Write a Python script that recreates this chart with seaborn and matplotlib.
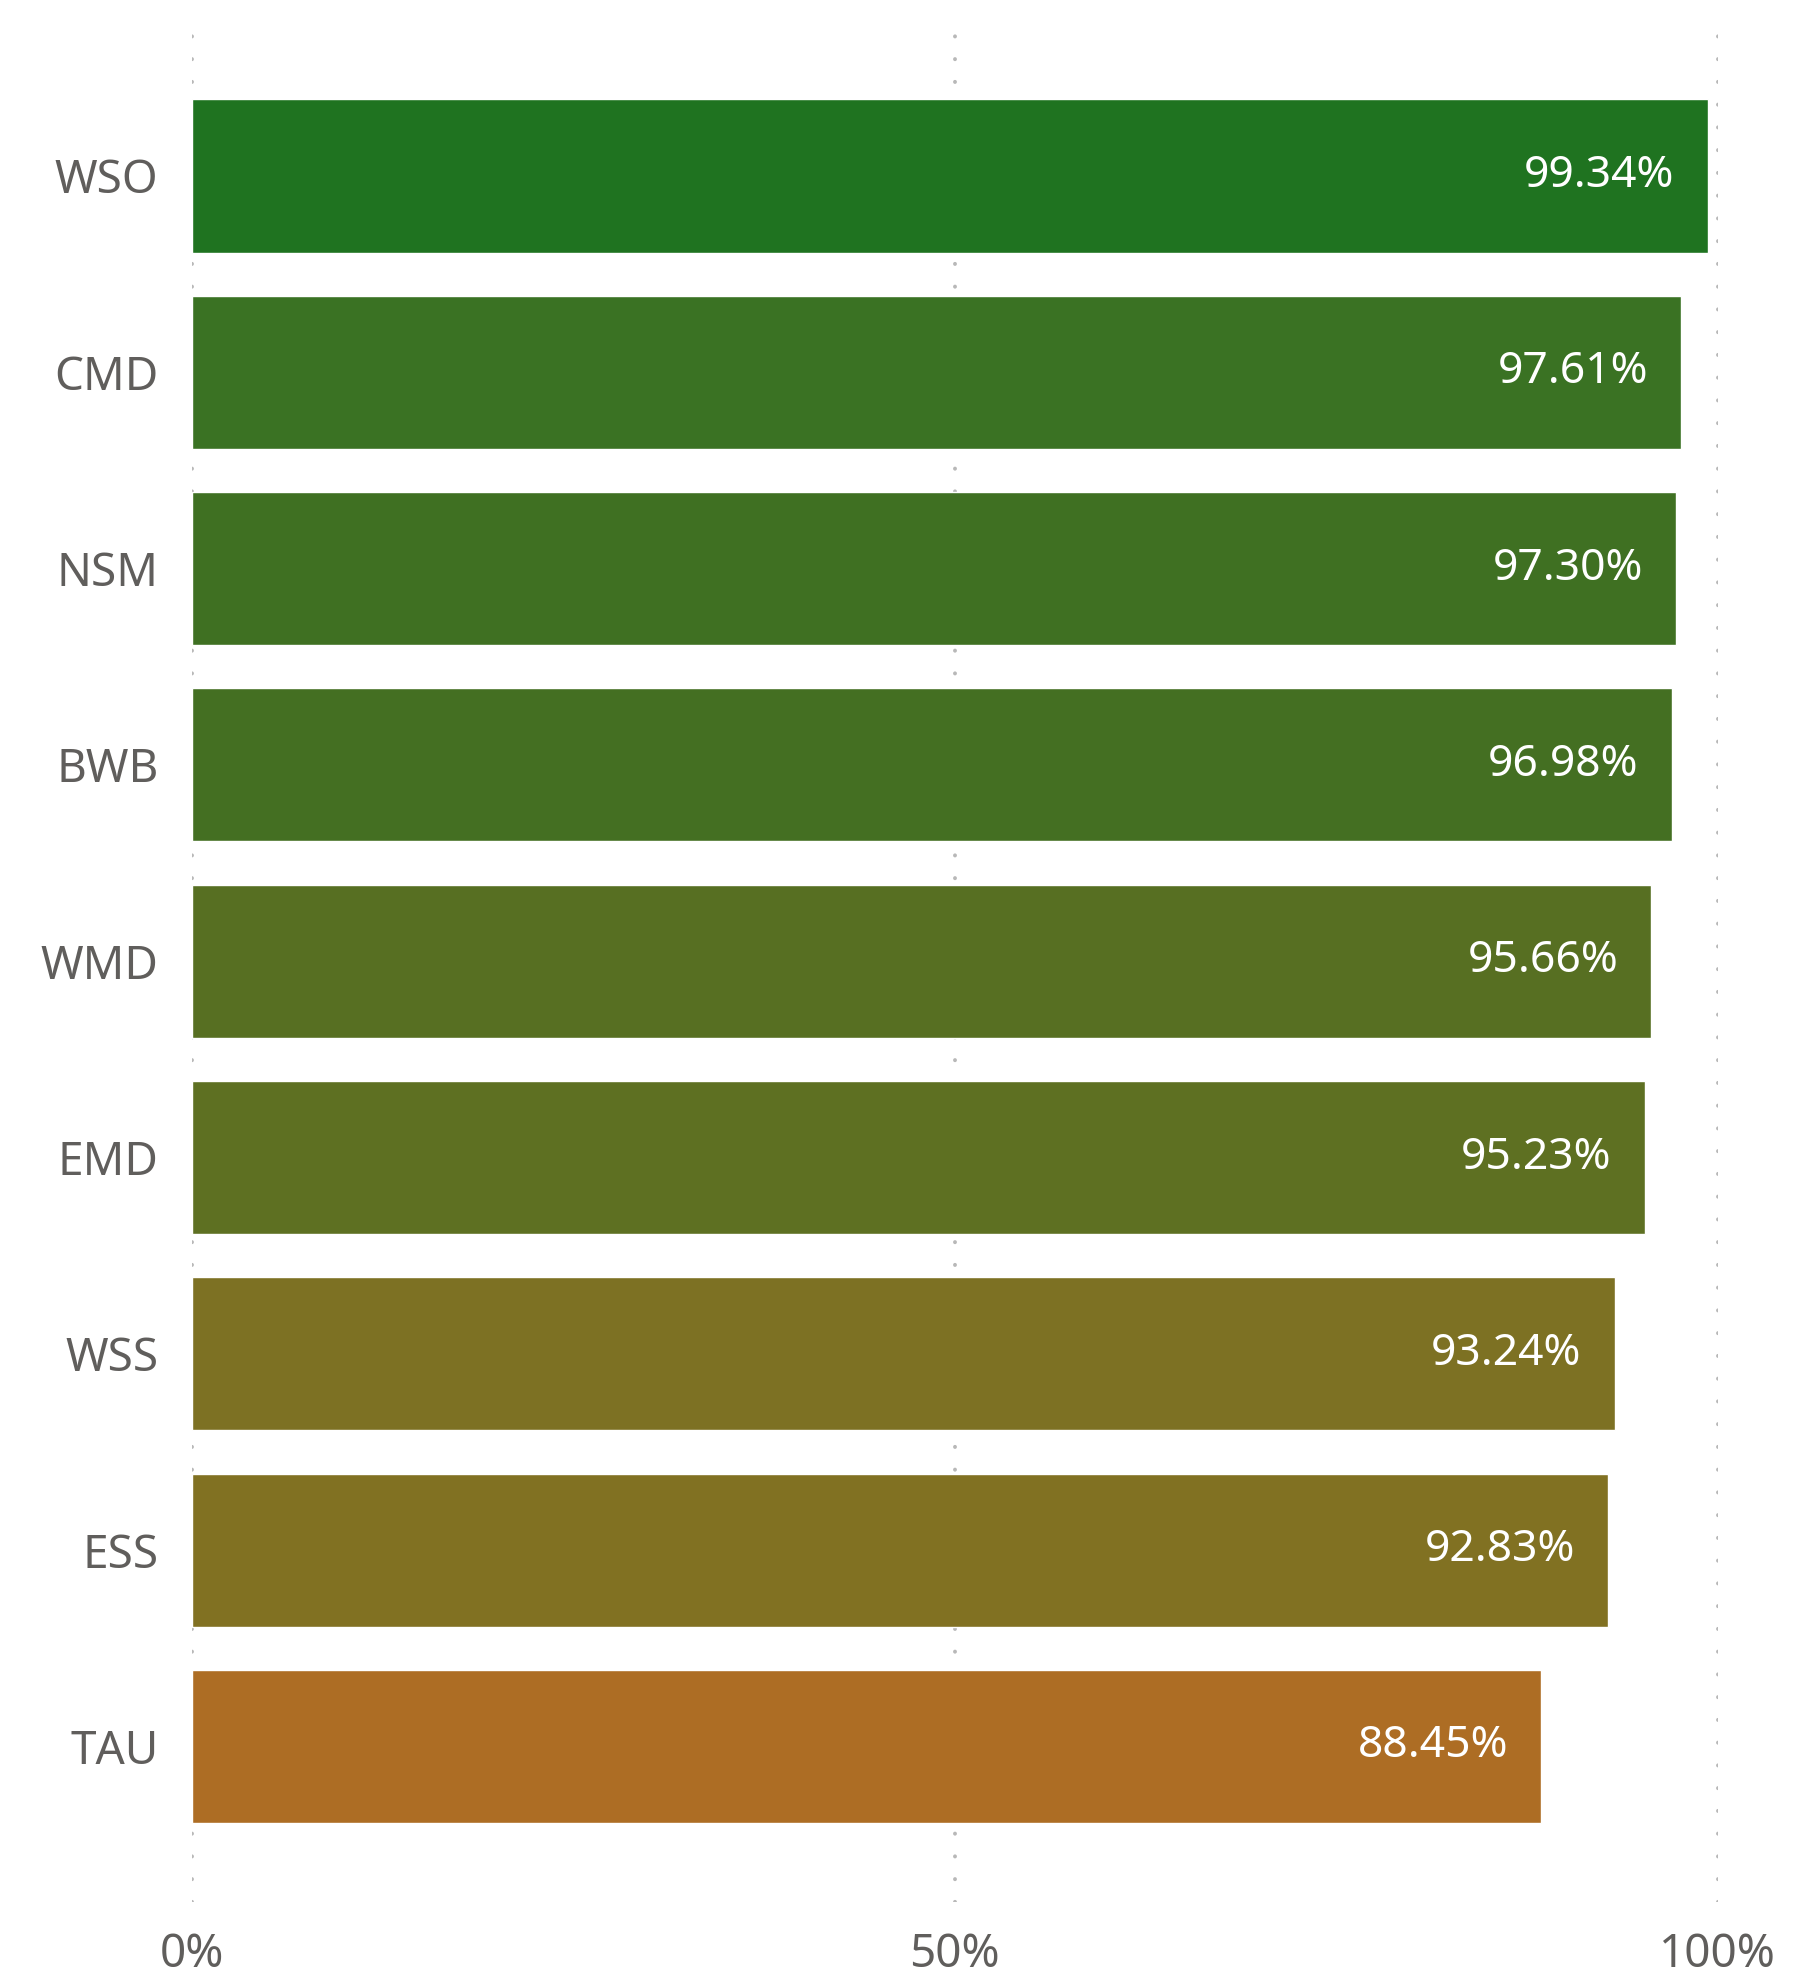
import matplotlib
matplotlib.use("Agg")
import matplotlib.pyplot as plt
import seaborn as sns
import pandas as pd

# Datos del gráfico
regiones = ["WSO", "CMD", "NSM", "BWB", "WMD", "EMD", "WSS", "ESS", "TAU"]
porcentajes = [99.34, 97.61, 97.30, 96.98, 95.66, 95.23, 93.24, 92.83, 88.45]
colores = ["#1F7320", "#3A7223", "#3F7022", "#446F22", "#576F22",
           "#5E7022", "#7D7123", "#817122", "#AD6D24"]
ticks_x = [0, 50, 100]
etiquetas_x = ["0%", "50%", "100%"]

df = pd.DataFrame({"region": regiones, "pct": porcentajes})

sns.set_theme(style="white")
plt.rcParams["font.family"] = ["Noto Sans", "DejaVu Sans"]

gris_texto = "#605E5C"
gris_grid = "#B8B8B8"

fig = plt.figure(figsize=(17.93, 19.87), dpi=100)
ax = fig.add_axes([0.107, 0.043, 0.851, 0.945])

sns.barplot(
    data=df, x="pct", y="region", hue="region",
    palette=dict(zip(regiones, colores)),
    orient="h", width=0.78, saturation=1, legend=False, ax=ax,
)

ax.set_xlim(0, 100)
ax.set_ylim(8.79, -0.775)
ax.set_xticks(ticks_x)
ax.set_xticklabels(etiquetas_x)
ax.set(xlabel="", ylabel="")

# ── Rejilla punteada vertical ─────────────────────────────────────────
ax.set_axisbelow(True)
ax.xaxis.grid(True, color=gris_grid, linewidth=2.8,
              linestyle=(0, (0.05, 5.8)), dash_capstyle="round")
ax.yaxis.grid(False)
sns.despine(ax=ax, left=True, bottom=True)

ax.tick_params(axis="x", length=0, pad=22, labelsize=33, labelcolor=gris_texto)
ax.tick_params(axis="y", length=0, pad=24, labelsize=33, labelcolor=gris_texto)

# ── Etiquetas de valor dentro de la barra ────────────────────────────
for i, v in enumerate(porcentajes):
    ax.annotate(f"{v:.2f}%", xy=(v, i), xytext=(-24, 0),
                textcoords="offset points", ha="right", va="center",
                color="white", fontsize=32)

fig.savefig("out.png", dpi=100, facecolor="white")
